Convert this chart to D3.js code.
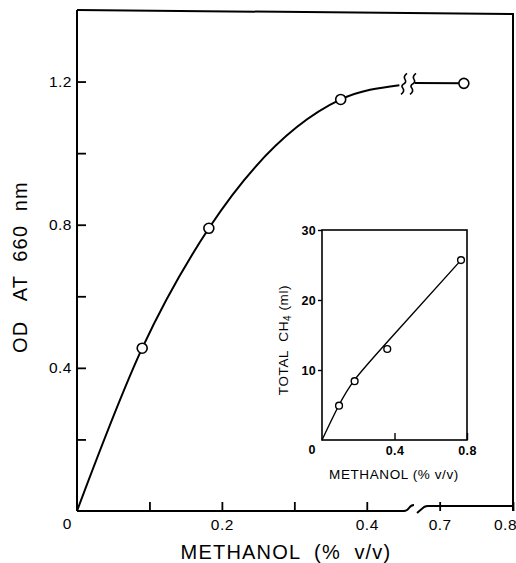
<!DOCTYPE html>
<html><head><meta charset="utf-8">
<script src="https://cdn.jsdelivr.net/npm/d3@7"></script>
<style>
body{margin:0;background:#fff}
svg text{font-family:"Liberation Sans",Arial,sans-serif;fill:#000}
.gray{opacity:0.999}
</style>
</head><body>
<svg id="c" width="516" height="563"></svg>
<script>
// ---- main chart data ----
const mainPointsX = [0.09, 0.182, 0.364, 0.733];
const mainPointsY = [0.455, 0.79, 1.15, 1.195];
const mainCurveX = [0, 0.09, 0.182, 0.364, 0.445];
const mainCurveY = [0, 0.455, 0.79, 1.15, 1.19];
const mainTailX = [0.666, 0.733];
const mainTailY = [1.196, 1.195];
const mainXTicks = [0.1, 0.2, 0.3, 0.4, 0.7, 0.8];
const mainXTickLabels = ["", "0.2", "", "0.4", "0.7", "0.8"];
const mainYTicks = [0.2, 0.4, 0.6, 0.8, 1.0, 1.2];
const mainYTickLabels = ["", "0.4", "", "0.8", "", "1.2"];
const breakLow = 0.45, breakHigh = 0.65;

// ---- inset data ----
const insetPointsX = [0.094, 0.18, 0.36, 0.767];
const insetPointsY = [4.9, 8.4, 13.0, 25.7];
const insetFitX = [0, 0.094, 0.18, 0.36, 0.767];
const insetFitY = [0, 5.0, 8.6, 14.0, 25.7];
const insetXTicks = [0.4, 0.8];
const insetXTickLabels = ["0.4", "0.8"];
const insetYTicks = [10, 20, 30];
const insetYTickLabels = ["10", "20", "30"];

const svg = d3.select("#c");

// ---- main scales ----
const x = d3.scaleLinear().domain([0, breakLow, breakHigh, 0.8]).range([77, 403, 403, 513]);
const y = d3.scaleLinear().domain([0, 1.4]).range([511, 10]);

const g = svg.append("g");

// y axis
const yAxis = d3.axisLeft(y).tickValues(mainYTicks)
  .tickFormat((d, i) => mainYTickLabels[i]).tickSizeInner(-9).tickSizeOuter(0).tickPadding(5);
const ya = g.append("g").attr("transform", `translate(${x(0)},0)`).call(yAxis);
ya.select(".domain").remove();
ya.selectAll("line").attr("stroke", "#000").attr("stroke-width", 1.8);
ya.selectAll("text").attr("font-size", 15.5).attr("letter-spacing", 0.5).attr("fill", "#000");
g.append("line").attr("x1", x(0)).attr("x2", x(0)).attr("y1", y(1.4)).attr("y2", y(0))
  .attr("stroke", "#000").attr("stroke-width", 2);

// x axis
const xAxis = d3.axisBottom(x).tickValues(mainXTicks)
  .tickFormat((d, i) => mainXTickLabels[i]).tickSizeInner(-9).tickSizeOuter(0).tickPadding(8);
const xa = g.append("g").attr("transform", `translate(0,${y(0)})`).call(xAxis);
xa.select(".domain").remove();
xa.selectAll("line").attr("stroke", "#000").attr("stroke-width", 1.8);
xa.selectAll("text").attr("font-size", 15.5).attr("letter-spacing", 0.5).attr("fill", "#000")
  .attr("dx", d => d === 0.8 ? -8 : 0);

const xb = x(breakLow);
const y0 = y(0);
g.append("path")
  .attr("d", `M${x(0)},${y0}H${xb + 1}q3,0 5,-3q2,-3 5,-3`)
  .attr("fill", "none").attr("stroke", "#000").attr("stroke-width", 2);
g.append("path")
  .attr("d", `M${xb + 14},${y0 + 2}l7,-6q2,-1 4,-1H${x(0.8)}`)
  .attr("fill", "none").attr("stroke", "#000").attr("stroke-width", 2);

// origin label
g.append("text").attr("x", 67).attr("y", 529).attr("text-anchor", "middle")
  .attr("font-size", 15.5).text("0");

// frame top and right
g.append("path")
  .attr("d", `M${x(0)},${y(1.4)}L${x(0.8)},${y(1.4) + 4}L${x(0.8)},${y0}`)
  .attr("fill", "none").attr("stroke", "#000").attr("stroke-width", 2);

// axis titles
g.append("text").attr("x", 286).attr("y", 559).attr("text-anchor", "middle")
  .attr("font-size", 20).attr("letter-spacing", 1.2)
  .style("white-space", "pre").text("METHANOL  (%  v/v)");
g.append("text").attr("class", "gray").attr("transform", "translate(27,267) rotate(-90)").attr("text-anchor", "middle")
  .attr("font-size", 20).attr("letter-spacing", 1.2)
  .style("white-space", "pre").text("OD   AT  660  nm");

// curve
const line = d3.line().x(d => x(d[0])).y(d => y(d[1])).curve(d3.curveMonotoneX);
g.append("path").datum(mainCurveX.map((v, i) => [v, mainCurveY[i]]))
  .attr("d", line).attr("fill", "none").attr("stroke", "#000").attr("stroke-width", 2);
g.append("path").datum(mainTailX.map((v, i) => [v, mainTailY[i]]))
  .attr("d", d3.line().x(d => x(d[0])).y(d => y(d[1])))
  .attr("fill", "none").attr("stroke", "#000").attr("stroke-width", 2);

// break marks on curve
const yc = y(1.195);
[xb + 1, xb + 10].forEach(bx => {
  g.append("path")
    .attr("d", `M${bx + 3},${yc - 10}q-4,3 -2,6q2,3 -2,5q-2,2 0,4q2,3 -2,6`)
    .attr("fill", "none").attr("stroke", "#000").attr("stroke-width", 1.6);
});

// points
g.selectAll("circle.m").data(mainPointsX.map((v, i) => [v, mainPointsY[i]])).join("circle")
  .attr("class", "m").attr("cx", d => x(d[0])).attr("cy", d => y(d[1])).attr("r", 5)
  .attr("fill", "#fff").attr("stroke", "#000").attr("stroke-width", 1.6);

// ---- inset ----
const ix = d3.scaleLinear().domain([0, 0.8]).range([322, 467]);
const iy = d3.scaleLinear().domain([0, 30]).range([440, 230]);
const ig = svg.append("g");

const iya = ig.append("g").attr("transform", `translate(${ix(0)},0)`)
  .call(d3.axisLeft(iy).tickValues(insetYTicks).tickFormat((d, i) => insetYTickLabels[i])
    .tickSizeInner(4).tickSizeOuter(0).tickPadding(2));
iya.select(".domain").remove();
iya.selectAll("line").attr("stroke", "#000").attr("stroke-width", 1.4);
iya.selectAll("text").attr("font-size", 12.5).attr("font-weight", "bold").attr("letter-spacing", 0.3).attr("fill", "#000");

const ixa = ig.append("g").attr("transform", `translate(0,${iy(0)})`)
  .call(d3.axisBottom(ix).tickValues(insetXTicks).tickFormat((d, i) => insetXTickLabels[i])
    .tickSizeInner(-7).tickSizeOuter(0).tickPadding(6));
ixa.select(".domain").remove();
ixa.selectAll("line").attr("stroke", "#000").attr("stroke-width", 1.4);
ixa.selectAll("text").attr("font-size", 12.5).attr("font-weight", "bold").attr("letter-spacing", 0.3).attr("fill", "#000");

ig.append("rect").attr("x", ix(0)).attr("y", iy(30))
  .attr("width", ix(0.8) - ix(0)).attr("height", iy(0) - iy(30))
  .attr("fill", "none").attr("stroke", "#000").attr("stroke-width", 1.6);

ig.append("text").attr("x", 312).attr("y", 454).attr("text-anchor", "middle")
  .attr("font-size", 12.5).attr("font-weight", "bold").text("0");

ig.append("text").attr("x", 394).attr("y", 479).attr("text-anchor", "middle")
  .attr("font-size", 13.5).attr("letter-spacing", 0.6).style("white-space", "pre")
  .text("METHANOL (% v/v)");
const yt = ig.append("text").attr("class", "gray").attr("transform", "translate(288,340) rotate(-90)")
  .attr("text-anchor", "middle").attr("font-size", 13.5).attr("letter-spacing", 0.6)
  .attr("fill", "#000").style("white-space", "pre");
yt.append("tspan").attr("fill", "#000").text("TOTAL  CH");
yt.append("tspan").attr("fill", "#000").attr("font-size", 10).attr("dy", 3).text("4");
yt.append("tspan").attr("fill", "#000").attr("dy", -3).text(" (ml)");

const iline = d3.line().x(d => ix(d[0])).y(d => iy(d[1])).curve(d3.curveNatural);
ig.append("path").datum(insetFitX.map((v, i) => [v, insetFitY[i]]))
  .attr("d", iline).attr("fill", "none").attr("stroke", "#000").attr("stroke-width", 1.4);

ig.selectAll("circle").data(insetPointsX.map((v, i) => [v, insetPointsY[i]])).join("circle")
  .attr("cx", d => ix(d[0])).attr("cy", d => iy(d[1])).attr("r", 3.4)
  .attr("fill", "#fff").attr("stroke", "#000").attr("stroke-width", 1.4);
</script>
</body></html>
